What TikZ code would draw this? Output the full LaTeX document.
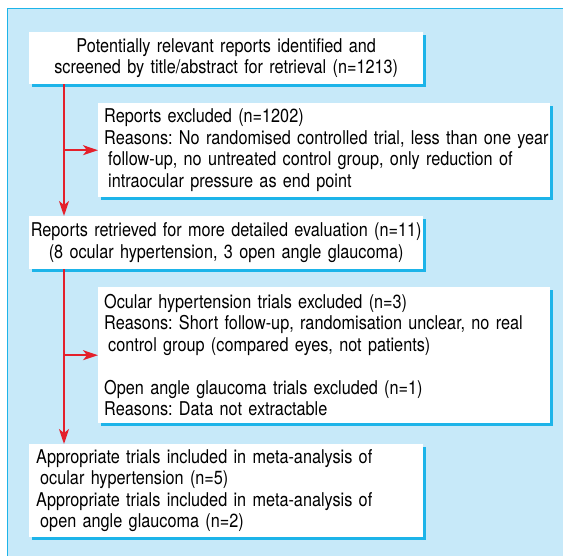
\documentclass[tikz,border=0pt]{standalone}
\usepackage{fontspec}
\setmainfont{TeX Gyre Heros}[FakeStretch=0.855]
\usetikzlibrary{arrows.meta,shadows}
\definecolor{panelblue}{HTML}{C7E9F9}
\definecolor{rimblue}{HTML}{1DB4E9}
\definecolor{flowred}{HTML}{E4202B}
\frenchspacing

\begin{document}
\begin{tikzpicture}[x=1pt, y=-1pt,
    every node/.style={font=\fontsize{19}{21.5}\selectfont},
    box/.style={anchor=north west, fill=white, inner ysep=0pt, minimum height=#1,
      drop shadow={shadow xshift=3pt, shadow yshift=-3pt, fill=rimblue, opacity=1}},
    narrowbox/.style={box=#1, inner xsep=0pt, text width=394pt, align=center},
    widebox/.style={box=#1, inner xsep=6pt, text width=440pt, align=left},
    flow/.style={draw=flowred, line width=1.6pt, -{Stealth[length=15pt, width=10pt, inset=4pt]}}]
      \useasboundingbox (0,0) rectangle (563,556);
      \fill[panelblue] (7,8) rectangle (563,556);
      \draw[rimblue, line width=1.5pt] (7.5,556) -- (7.5,8.5) -- (563,8.5);
      \node[narrowbox=52pt] (identified) at (29,32)
        {Potentially relevant reports identified and\\
         screened by title/abstract for retrieval (n=1213)};
      \node[widebox=94pt] (excluded) at (98,103)
        {Reports excluded (n=1202)\\
         \mbox{Reasons: No randomised controlled trial, less than one year}\\
         \hspace*{4pt}follow-up, no untreated control group, only reduction of\\
         \hspace*{4pt}intraocular pressure as end point};
      \node[narrowbox=53pt] (retrieved) at (29,216)
        {\mbox{Reports retrieved for more detailed evaluation (n=11)}\\
         (8 ocular hypertension, 3 open angle glaucoma)};
      \node[widebox=136pt] (trialsout) at (98,287)
        {Ocular hypertension trials excluded (n=3)\\
         Reasons: Short follow-up, randomisation unclear, no real\\
         \hspace*{4pt}control group (compared eyes, not patients)\\[21.5pt]
         Open angle glaucoma trials excluded (n=1)\\
         Reasons: Data not extractable};
      \node[box=93pt, inner xsep=7pt, text width=380pt, align=left] (included) at (29,444)
        {Appropriate trials included in meta-analysis of\\
         \hspace*{4pt}ocular hypertension (n=5)\\
         Appropriate trials included in meta-analysis of\\
         \hspace*{4pt}open angle glaucoma (n=2)};
      \coordinate (spine) at (64,0);
      \draw[flow] (spine |- identified.south) -- (spine |- retrieved.north);
      \draw[flow] (spine |- retrieved.south) -- (spine |- included.north);
      \draw[flow] (spine |- excluded.west) -- (excluded.west);
      \draw[flow] (spine |- trialsout.west) -- (trialsout.west);
\end{tikzpicture}
\end{document}
